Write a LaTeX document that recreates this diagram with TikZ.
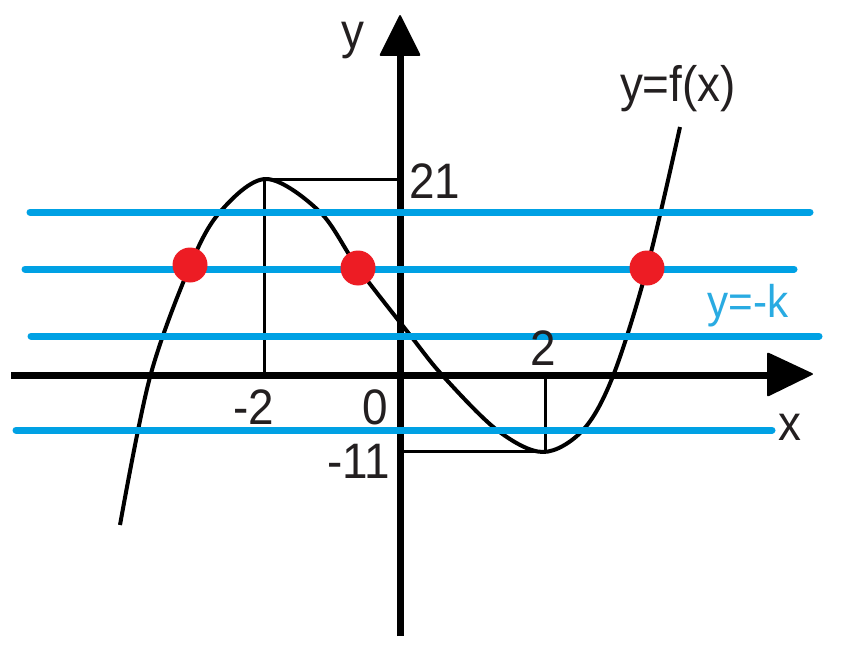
\documentclass[tikz,border=0pt]{standalone}
\usepackage{fontspec}
\setmainfont[FakeStretch=0.92]{Liberation Sans}
\definecolor{lineblue}{HTML}{00A1E4}
\definecolor{textblue}{HTML}{29ABE2}
\definecolor{dotred}{HTML}{ED1C24}
\definecolor{txtgray}{HTML}{231F20}
\begin{document}
\begin{tikzpicture}[x=1bp,y=-1bp,
  axis/.style={line width=7bp, black},
  tipfill/.style={fill=black, rounded corners=2bp},
  level/.style={line width=7bp, draw=lineblue, line cap=round},
  guide/.style={line width=3bp, black},
  curve/.style={line width=4bp, black, line join=round},
  dot/.style={circle, fill=dotred, inner sep=0pt, minimum size=35bp},
  lbl/.style={text=txtgray, font=\fontsize{50}{56}\selectfont, inner sep=0pt, anchor=base},
  blbl/.style={text=textblue, font=\fontsize{46}{52}\selectfont, inner sep=0pt, anchor=base}]
\useasboundingbox (0,0) rectangle (847,651);
\fill[white] (0,0) rectangle (847,651);
% axes
\coordinate (ybot) at (400,636);
\coordinate (ytop) at (400,50);
\coordinate (xleft) at (11,375);
\coordinate (xright) at (772,375);
\draw[axis] (ybot) -- (ytop);
\draw[axis] (xleft) -- (xright);
\fill[tipfill] (379,56) -- (400,14) -- (421,56) -- cycle;
\fill[tipfill] (767,352) -- (814,374) -- (767,397) -- cycle;
% guides
\coordinate (mx) at (264,179);
\coordinate (mxa) at (264,376);
\coordinate (mxy) at (400,179);
\coordinate (mn) at (545,451);
\coordinate (mna) at (545,376);
\coordinate (mny) at (400,451);
\draw[guide] (mxa) -- (mx) -- (mxy);
\draw[guide] (mna) -- (mn) -- (mny);
% curve
\draw[curve] plot[smooth, tension=0.55] coordinates {
  (120,525) (150,377) (190,266) (220,212) (266,179) (320,212) (358,268)
  (410,335) (443,376) (497,430) (543,452) (583,430) (613,376) (647,268) (680,127)};
% blue lines
\coordinate (b1l) at (30,212); \coordinate (b1r) at (810,212);
\coordinate (b2l) at (25,269); \coordinate (b2r) at (794,269);
\coordinate (b3l) at (31,336); \coordinate (b3r) at (819,336);
\coordinate (b4l) at (16,430); \coordinate (b4r) at (772,430);
\draw[level] (b1l) -- (b1r);
\draw[level] (b2l) -- (b2r);
\draw[level] (b3l) -- (b3r);
\draw[level] (b4l) -- (b4r);
% dots
\node[dot] (d1) at (190,265) {};
\node[dot] (d2) at (358,268) {};
\node[dot] (d3) at (647,268) {};
% labels
\node[lbl] (ly) at (353,49) {y};
\node[lbl] (lx) at (790,440) {x};
\node[lbl] (l21) at (435,198) {21};
\node[lbl] (lm2) at (254,424) {-2};
\node[lbl] (l0) at (375,424) {0};
\node[lbl] (lm11) at (359,478) {-11};
\node[lbl] (l2) at (543,365) {2};
\node[lbl] (lf) at (678,102) {y=f(x)};
\node[blbl] (lk) at (748,317) {y=-k};
\end{tikzpicture}
\end{document}
